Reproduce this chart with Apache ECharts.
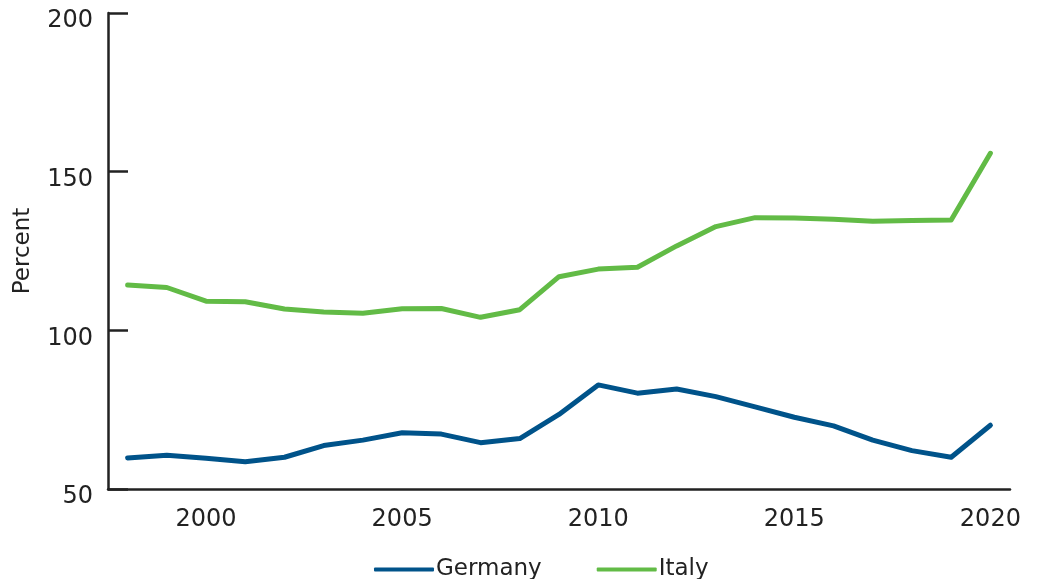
<!DOCTYPE html>
<html><head><meta charset="utf-8">
<script src="https://cdn.jsdelivr.net/npm/echarts@6/dist/echarts.min.js"></script>
<style>html,body{margin:0;padding:0;background:#fff}#c{width:1037px;height:579px}</style>
</head><body><div id="c"></div>
<script>
const years = ['1998','1999','2000','2001','2002','2003','2004','2005','2006','2007','2008','2009','2010','2011','2012','2013','2014','2015','2016','2017','2018','2019','2020'];
const germany = [59.8,60.6,59.7,58.6,60.0,63.7,65.4,67.7,67.3,64.6,65.9,73.5,82.8,80.2,81.5,79.1,75.9,72.6,69.9,65.4,62.1,60.0,70.1];
const italy = [114.3,113.5,109.2,109.0,106.7,105.8,105.4,106.8,106.9,104.1,106.5,116.9,119.3,119.9,126.6,132.7,135.5,135.4,135.0,134.4,134.6,134.8,155.8];
const yTicks = [50,100,150,200];
const font = 'DejaVu Sans';
const chart = echarts.init(document.getElementById('c'), null, {renderer:'canvas'});
chart.setOption({
  animation:false,
  textStyle:{fontFamily:font},
  grid:{left:108,right:27,top:13,bottom:90},
  legend:{
    bottom:-7,left:369,itemGap:55,itemWidth:60,itemHeight:4,icon:'roundRect',
    textStyle:{fontSize:23,color:'#222',fontFamily:font,padding:[0,0,0,-3]},
    data:['Germany','Italy']
  },
  xAxis:{
    type:'category',data:years,boundaryGap:true,
    axisLine:{lineStyle:{color:'#222',width:2.5}},
    axisTick:{show:false},
    axisLabel:{fontSize:24,color:'#222',margin:19,interval:(i,v)=>(+v)%5===0}
  },
  yAxis:{
    type:'value',min:50,max:200,interval:50,
    name:'Percent',nameLocation:'middle',nameGap:73,nameRotate:90,
    nameTextStyle:{fontSize:23,color:'#222'},
    axisLine:{show:true,lineStyle:{color:'#222',width:2.5}},
    axisTick:{show:true,inside:true,length:20,lineStyle:{color:'#222',width:2.5}},
    splitLine:{show:false},
    axisLabel:{fontSize:24,color:'#222',margin:15,verticalAlign:'top',lineHeight:16,formatter:v=>yTicks.includes(v)?String(v):''}
  },
  series:[
    {name:'Germany',type:'line',data:germany,symbol:'none',lineStyle:{color:'#00538A',width:5,cap:'round',join:'round'},itemStyle:{color:'#00538A'}},
    {name:'Italy',type:'line',data:italy,symbol:'none',lineStyle:{color:'#62BB46',width:5,cap:'round',join:'round'},itemStyle:{color:'#62BB46'}}
  ]
});
</script></body></html>
